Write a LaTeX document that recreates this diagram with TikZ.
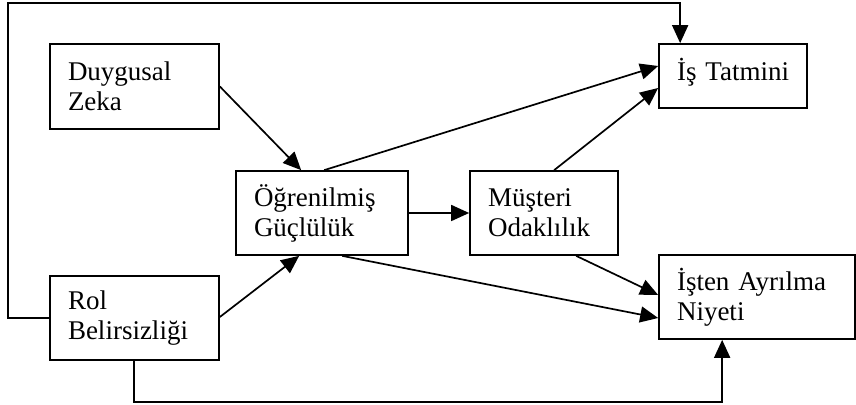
\documentclass[tikz,border=0pt]{standalone}
\usepackage{fontspec}
\setmainfont{Liberation Serif}
\usetikzlibrary{arrows.meta,calc}
\begin{document}
\begin{tikzpicture}[x=0.5pt,y=-0.5pt,
  box/.style={draw,line width=0.85pt,rectangle,inner xsep=9pt,inner ysep=0pt,align=left,
    font=\fontsize{13.5}{15}\selectfont},
  arr/.style={line width=0.85pt,-{Triangle[length=9pt,width=8pt]}}]
\useasboundingbox (0,0) rectangle (856,405);
\node[box,minimum width=84.5pt,text width=66.5pt,minimum height=42.5pt] (dz) at (134.5,86.5) {Duygusal\\Zeka};
\node[box,minimum width=86pt,text width=68pt,minimum height=42pt] (og) at (322,213) {Öğrenilmiş\\Güçlülük};
\node[box,minimum width=84.5pt,text width=66.5pt,minimum height=42pt] (rb) at (134.5,318) {Rol\\Belirsizliği};
\node[box,minimum width=74pt,text width=56pt,minimum height=32pt,text height=9pt,text depth=4.5pt] (it) at (733,76) {\mbox{İş Tatmini}};
\node[box,minimum width=74pt,text width=56pt,minimum height=42pt] (mo) at (544,213) {Müşteri\\Odaklılık};
\node[box,minimum width=98pt,text width=80pt,minimum height=42pt] (ia) at (757,297) {İşten Ayrılma\\Niyeti};
\coordinate (lt) at (8,3);
\coordinate (lb) at (400,402);
\draw[arr] (dz.east) -- ($(og.north west)+(66,0)$);
\draw[arr] ($(og.north west)+(89,0)$) -- ($(it.west)+(0,-10)$);
\draw[arr] ($(mo.north west)+(85,0)$) -- ($(it.west)+(0,12)$);
\draw[arr] (og.east) -- (mo.west);
\draw[arr] ($(rb.east)+(0,-1)$) -- ($(og.south west)+(64,0)$);
\draw[arr] ($(og.south west)+(107,0)$) -- ($(ia.west)+(0,21)$);
\draw[arr] ($(mo.south west)+(107,0)$) -- ($(ia.west)+(0,-2)$);
\draw[arr] (rb.west) -| (lt) -| ($(it.north west)+(22,0)$);
\draw[arr] ($(rb.south west)+(85,0)$) |- (lb) -| ($(ia.south west)+(64,0)$);
\end{tikzpicture}
\end{document}
